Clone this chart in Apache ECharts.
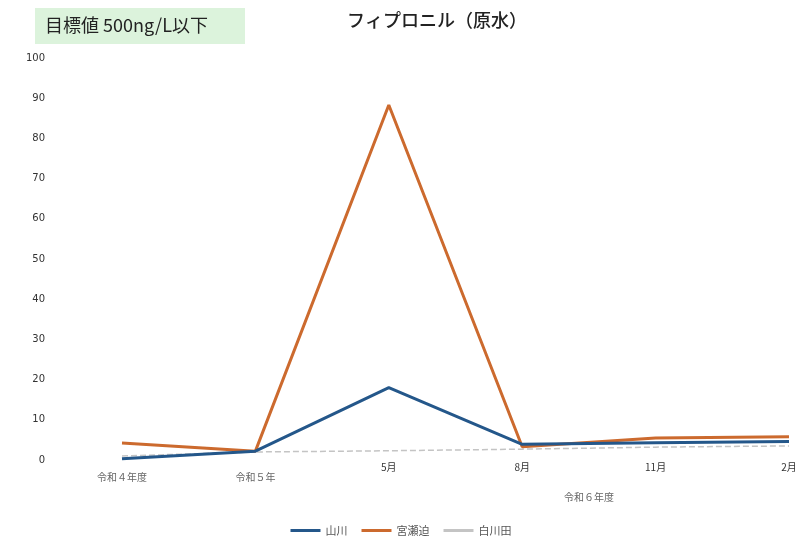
<!DOCTYPE html>
<html><head><meta charset="utf-8">
<script src="https://cdn.jsdelivr.net/npm/echarts@6/dist/echarts.min.js"></script>
<style>html,body{margin:0;padding:0;background:#fff}#c{width:802px;height:541px}</style>
</head><body><div id="c"></div>
<script>
const categories = ["令和４年度", "令和５年", "5月", "8月", "11月", "2月"];
const groupLabel = "令和６年度";
const yamakawa = [0.3, 2.2, 18, 3.9, 4.3, 4.6];
const miyase = [4.2, 2.2, 88.3, 3.3, 5.5, 5.8];
const shirakawada = [1.0, 2.0, 2.3, 2.7, 3.2, 3.5];
const seriesNames = ["山川", "宮瀬迫", "白川田"];
const yTicks = [0, 100, 10];

const chart = echarts.init(document.getElementById('c'));
const option = {
  animation: false,
  backgroundColor: '#fff',
  title: {
    text: 'フィプロニル（原水）', left: 432, top: 6, textAlign: 'center',
    textStyle: {fontSize: 18, fontWeight: 500, color: '#222', fontFamily: 'Noto Sans CJK JP'}
  },
  grid: {left: 122, right: 13, top: 58, bottom: 81},
  legend: {
    bottom: 0, left: 'center', itemWidth: 30, itemHeight: 3, itemGap: 14,
    textStyle: {fontSize: 11, color: '#555', fontFamily: 'Noto Sans CJK JP'},
    data: seriesNames.map(n => ({name: n, icon: 'rect'}))
  },
  xAxis: {
    type: 'category', data: categories, boundaryGap: false,
    axisLine: {show: false}, axisTick: {show: false},
    axisLabel: {
      margin: 2, fontSize: 10, color: '#444', fontFamily: 'Noto Sans CJK JP',
      formatter: (v, i) => i < 2 ? '{low|' + v + '}' : '{mon|' + v + '}',
      rich: {low: {padding: [10, 0, 0, 0], fontSize: 10, color: '#666'}, mon: {padding: [0, 0, 0, 0], fontSize: 10, color: '#333'}}
    }
  },
  yAxis: {
    type: 'value', min: yTicks[0], max: yTicks[1], interval: yTicks[2],
    splitLine: {show: false}, axisLine: {show: false}, axisTick: {show: false},
    axisLabel: {margin: 77, fontSize: 10, color: '#333', fontFamily: 'DejaVu Sans'}
  },
  series: [
    {name: seriesNames[0], type: 'line', data: yamakawa, symbol: 'none', z: 3,
     lineStyle: {color: '#24578a', width: 3}, itemStyle: {color: '#24578a'}},
    {name: seriesNames[1], type: 'line', data: miyase, symbol: 'none', z: 2,
     lineStyle: {color: '#cc6a2e', width: 3}, itemStyle: {color: '#cc6a2e'}},
    {name: seriesNames[2], type: 'line', data: shirakawada, symbol: 'none', z: 1,
     lineStyle: {color: '#c4c4c4', width: 1.5, type: 'dashed'}, itemStyle: {color: '#c4c4c4'}}
  ],
  graphic: [
    {type: 'rect', left: 35, top: 8, shape: {width: 210, height: 36}, style: {fill: '#dcf3dc'}},
    {type: 'text', left: 45, top: 16, style: {text: '目標値 500ng/L以下', fontSize: 18, fill: '#222', fontFamily: 'Noto Sans CJK JP'}}
  ]
};
chart.setOption(option);
const p3 = chart.convertToPixel({xAxisIndex: 0}, categories[3]);
const p4 = chart.convertToPixel({xAxisIndex: 0}, categories[4]);
chart.setOption({graphic: [{}, {}, {type: 'text', x: (p3 + p4) / 2, y: 492, style: {text: groupLabel, fontSize: 10, fill: '#666', align: 'center', fontFamily: 'Noto Sans CJK JP'}}]});
</script></body></html>
